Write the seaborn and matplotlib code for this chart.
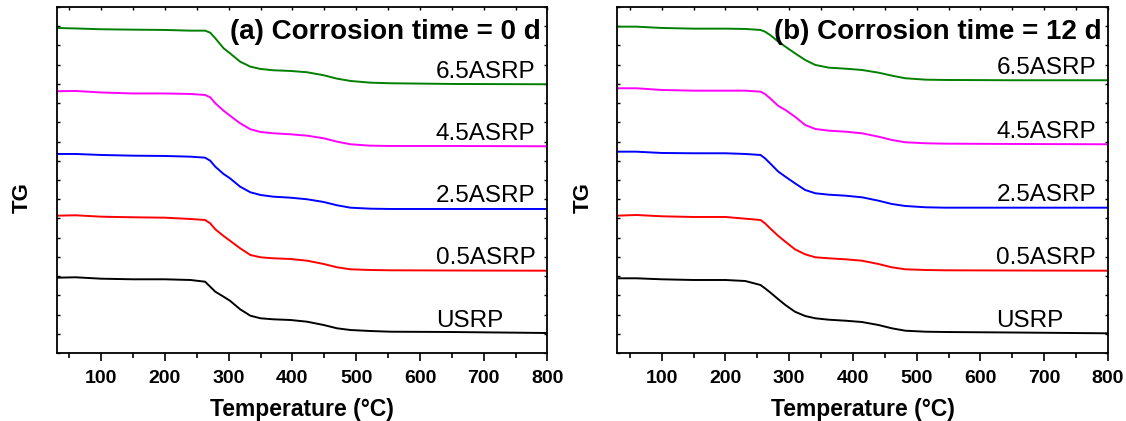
import numpy as np
import pandas as pd
import seaborn as sns
import matplotlib.pyplot as plt
from matplotlib.ticker import MultipleLocator, NullFormatter

# TG curves (arbitrary stacked units, higher = more mass)
samples = ["6.5ASRP", "4.5ASRP", "2.5ASRP", "0.5ASRP", "USRP"]
colors = ["#008000", "#ff00ff", "#0000ff", "#ff0000", "#000000"]

temp_a = [30, 60, 100, 150, 200, 240, 263, 271, 279, 292, 302, 318, 334, 350,
          370, 397, 423, 449, 470, 491, 522, 554, 650, 800]
tg_a_65 = [332, 331.5, 330.7, 330.3, 330, 329.3, 329.3, 327.3, 321.7, 311.7, 306.7, 298.3,
           293.3, 291, 289.7, 289, 287.7, 284.7, 281.3, 279, 277.3, 276.7, 276, 275.7]
tg_a_45 = [268.7, 269, 267.5, 266.5, 266.5, 266, 265, 262.7, 256.7, 249.3, 244.3, 236.7,
           230.7, 228, 226.7, 225.7, 224.3, 221.7, 218.3, 215.7, 214.3, 214, 214, 213.7]
tg_a_25 = [206, 206, 205, 204.3, 204, 203.3, 202.3, 199.3, 193.3, 186, 181.7, 173.3,
           167.7, 165, 163.3, 162.3, 160.7, 158, 154.7, 152.3, 151.3, 151, 151, 151]
tg_a_05 = [144.3, 144.7, 143.3, 142.7, 142.3, 141, 140, 136.7, 130.7, 124, 119.3, 111.7,
           105, 102.7, 101.7, 101, 99.3, 96, 92.7, 90.7, 90, 89.7, 89.5, 89.3]
tg_a_u = [82.3, 82.7, 81.3, 80.7, 80.7, 80, 78.3, 73.3, 68.3, 63.3, 59.3, 50.7,
          44.3, 41.7, 40.7, 40, 38.3, 35, 31.7, 30, 29, 28.3, 28, 27]

temp_b = [30, 60, 100, 150, 200, 231, 255, 262, 270, 283, 294, 309, 325, 341,
          362, 388, 414, 440, 461, 482, 514, 545, 650, 800]
tg_b_65 = [333.3, 333.3, 332, 331.3, 331.3, 331, 330, 328.3, 325, 318.3, 313.3, 306.7,
           300, 295, 292.3, 291.3, 290, 287.3, 284.3, 281.7, 280.3, 280, 279.7, 279.7]
tg_b_45 = [271.7, 271.7, 270, 269.3, 269.3, 269.3, 268.3, 266, 261.7, 254, 250, 243.3,
           235, 231, 229.3, 228.3, 226.7, 223.3, 220, 217.7, 216.7, 216.3, 216, 215.7]
tg_b_25 = [208.3, 208.3, 207, 206.7, 206.7, 206, 205, 201.7, 196.7, 188.3, 183.3, 176.7,
           170, 166.7, 165.3, 164.3, 162.7, 159.3, 156, 154, 152.7, 152.3, 152.3, 152.3]
tg_b_05 = [144.3, 145, 143.7, 143, 143, 141.3, 140, 136.7, 131.7, 124, 118.3, 110.7,
           105.7, 102.7, 101.7, 100.7, 99.3, 96, 92.7, 90.7, 90, 89.7, 89.5, 89.3]
tg_b_u = [81.7, 81.7, 80.7, 80, 80, 79, 75, 71.7, 67.7, 60.7, 55, 48.3,
          44, 41.7, 40.3, 39.3, 38, 35, 31.7, 29.3, 28.3, 28, 27.5, 26.7]

panels = [
    ("(a) Corrosion time = 0 d", temp_a, [tg_a_65, tg_a_45, tg_a_25, tg_a_05, tg_a_u]),
    ("(b) Corrosion time = 12 d", temp_b, [tg_b_65, tg_b_45, tg_b_25, tg_b_05, tg_b_u]),
]

sns.set_style("ticks")
plt.rcParams['font.family'] = ['Liberation Sans', 'DejaVu Sans']
plt.rcParams['text.color'] = 'black'
plt.rcParams['axes.labelcolor'] = 'black'
plt.rcParams['xtick.color'] = 'black'
plt.rcParams['ytick.color'] = 'black'

fig = plt.figure(figsize=(11.26, 4.21), dpi=100)
positions = [[0.0502, 0.1615, 0.4360, 0.8220],
             [0.5480, 0.1615, 0.4360, 0.8220]]

for pos, (title, temps, curves) in zip(positions, panels):
    ax = fig.add_axes(pos)
    rows = []
    for name, vals in zip(samples, curves):
        for t, v in zip(temps, vals):
            rows.append({"Temperature": t, "TG": v, "sample": name})
    df = pd.DataFrame(rows)
    sns.lineplot(data=df, x="Temperature", y="TG", hue="sample", hue_order=samples,
                 palette=colors, estimator=None, sort=False, legend=False,
                 linewidth=1.4, ax=ax)

    for name, vals in zip(samples, curves):
        ax.text(625, vals[-1] + 6.5, name, ha='left', va='baseline', fontsize=17.5)

    ax.text(0.987, 0.928, title, transform=ax.transAxes, ha='right', va='center',
            fontsize=20, fontweight='bold')

    ax.set_xlim(30, 800)
    ax.set_ylim(7, 353)
    ax.xaxis.set_major_locator(MultipleLocator(100))
    ax.xaxis.set_minor_locator(MultipleLocator(50))
    ax.set_yticks(np.linspace(7, 353, 19))
    ax.yaxis.set_major_formatter(NullFormatter())

    ax.tick_params(axis='x', which='major', direction='out', length=6, width=1.2,
                   labelsize=14, pad=6)
    ax.tick_params(axis='x', which='minor', direction='out', length=3.5, width=1.2)
    ax.tick_params(axis='y', which='major', direction='in', length=2.5, width=1.0,
                   left=True, right=True)
    for lab in ax.get_xticklabels():
        lab.set_fontweight('bold')

    # short inward ticks on the top spine
    top = ax.secondary_xaxis('top')
    top.xaxis.set_major_locator(MultipleLocator(50))
    top.tick_params(direction='in', length=2.5, width=1.0, labeltop=False)
    top.spines['top'].set_visible(False)

    for s in ax.spines.values():
        s.set_visible(True)
        s.set_linewidth(1.3)
        s.set_color('black')

    ax.set_xlabel("Temperature (°C)", fontsize=16.5, fontweight='bold', labelpad=8)
    ax.set_ylabel("TG", fontsize=16, fontweight='bold')
    ax.yaxis.set_label_coords(-0.048, 0.45)

fig.savefig("out.png", dpi=100)
